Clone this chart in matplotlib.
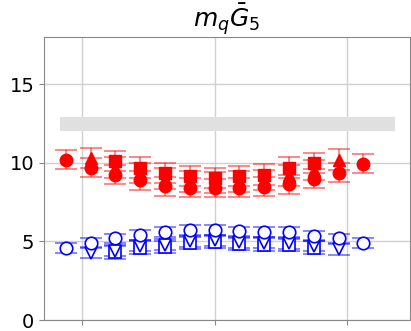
import matplotlib
matplotlib.use("Agg")
import matplotlib.pyplot as plt
import numpy as np

a = 0.0935
k13 = np.arange(-6, 7)
k11 = np.arange(-5, 6)
k9 = np.arange(-4, 5)

red_circ = [10.19, 9.68, 9.24, 8.90, 8.50, 8.42, 8.40, 8.42, 8.48, 8.65, 8.98, 9.36, 9.94]
red_circ_err = [0.6] * 13
red_tri = [10.30, 9.70, 9.35, 9.0, 8.8, 8.75, 8.8, 8.9, 9.2, 9.55, 10.20]
red_tri_err = [0.65] * 11
red_sq = [10.10, 9.70, 9.35, 9.15, 9.05, 9.15, 9.25, 9.70, 10.00]
red_sq_err = [0.65] * 9

blue_circ = [4.59, 4.90, 5.20, 5.40, 5.60, 5.73, 5.73, 5.65, 5.60, 5.60, 5.35, 5.20, 4.90]
blue_circ_err = [0.3] * 13
blue_v = [4.27, 4.42, 4.72, 4.78, 5.02, 5.08, 4.96, 4.92, 4.90, 4.72, 4.50]
blue_v_err = [0.35] * 11
blue_sq = [4.30, 4.60, 4.65, 4.90, 4.97, 4.84, 4.80, 4.78, 4.60]
blue_sq_err = [0.4] * 9

band_lo, band_hi = 12.0, 12.93
band_x = [-0.582, 0.68]

fig = plt.figure(figsize=(4.11, 3.31), dpi=100)
ax = fig.add_axes([0.107, 0.033, 0.8906, 0.855])

ax.fill_between(band_x, band_lo, band_hi, color="#e0e0e0", zorder=1, linewidth=0)

def eb(x, y, e, marker, color, filled):
    kw = dict(fmt=marker, ms=9, capsize=8, elinewidth=1.2, capthick=1.2,
              ecolor=color, zorder=3)
    if filled:
        kw.update(mfc=color, mec=color)
    else:
        kw.update(mfc="white", mec=color, mew=1.2)
    l = ax.errorbar(x, y, yerr=e, **kw)
    for c in l[1]:
        c.set_alpha(0.55)
    for c in l[2]:
        c.set_alpha(0.55)

eb(k9 * a, red_sq, red_sq_err, "s", "red", True)
eb(k11 * a, red_tri, red_tri_err, "^", "red", True)
eb(k13 * a, red_circ, red_circ_err, "o", "red", True)

eb(k9 * a, blue_sq, blue_sq_err, "s", "blue", False)
eb(k11 * a, blue_v, blue_v_err, "v", "blue", False)
eb(k13 * a, blue_circ, blue_circ_err, "o", "blue", False)

ax.set_xlim(-0.643, 0.737)
ax.set_ylim(0, 18)
ax.set_xticks([-0.5, 0, 0.5])
ax.set_xticklabels([])
ax.set_yticks([0, 5, 10, 15])
ax.tick_params(axis="y", labelsize=14, color="#888888")
ax.tick_params(axis="x", color="#888888")
ax.grid(True, color="#d0d0d0", linewidth=1, zorder=0)
ax.set_axisbelow(True)
for s in ax.spines.values():
    s.set_color("#888888")
ax.set_title(r"$m_q\bar{G}_5$", fontsize=18, pad=3)

fig.savefig("out.png", dpi=100)
